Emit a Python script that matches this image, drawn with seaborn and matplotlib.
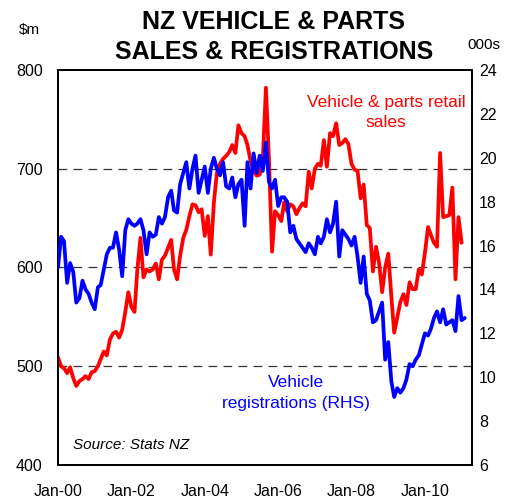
import matplotlib
matplotlib.use("Agg")
import matplotlib.pyplot as plt
import matplotlib.dates as mdates
import pandas as pd
import seaborn as sns

# Vehicle & parts retail sales, $m (left axis), monthly from Jan-2000
sales = [509, 500, 498, 493, 499, 488, 480, 485, 487, 490, 487, 494,
         495, 500, 507, 515, 511, 527, 533, 535, 529, 537, 555, 575,
         560, 555, 598, 630, 590, 598, 596, 598, 604, 588, 608, 612,
         620, 628, 598, 588, 612, 630, 638, 652, 664, 663, 656, 659,
         632, 652, 613, 666, 696, 705, 710, 713, 717, 724, 716, 744,
         736, 733, 724, 708, 698, 693, 694, 710, 782, 710, 616, 657,
         653, 647, 666, 657, 664, 662, 654, 660, 665, 662, 697, 680,
         700, 705, 703, 729, 702, 736, 733, 746, 724, 726, 730, 725,
         705, 699, 698, 670, 684, 643, 640, 596, 621, 605, 575, 600,
         614, 570, 534, 550, 565, 573, 562, 585, 578, 578, 598, 593,
         615, 641, 633, 625, 621, 716, 651, 652, 653, 681, 588, 651,
         625]

# Vehicle registrations, 000s (right axis), monthly from Jan-2000
regs = [15.0, 16.4, 16.2, 14.3, 15.2, 14.8, 13.4, 13.6, 14.4, 14.0, 13.8, 13.4,
        13.1, 14.1, 14.2, 14.9, 15.6, 15.9, 15.9, 16.6, 15.8, 14.6, 16.7, 17.2,
        17.0, 16.9, 17.0, 17.2, 16.7, 15.6, 16.6, 16.4, 16.5, 17.3, 17.0, 17.3,
        18.2, 18.5, 17.6, 17.5, 18.8, 19.3, 19.8, 18.6, 19.5, 20.1, 18.4, 19.0,
        19.6, 18.4, 19.5, 20.0, 19.5, 19.2, 19.8, 18.7, 18.6, 19.1, 18.2, 18.8,
        19.0, 16.9, 19.8, 18.6, 20.2, 19.3, 20.1, 19.4, 20.7, 18.9, 18.6, 19.0,
        17.8, 18.2, 18.2, 18.0, 16.6, 16.9, 16.3, 16.1, 15.9, 15.7, 16.1, 15.9,
        15.6, 16.4, 16.1, 16.4, 17.2, 16.6, 17.0, 18.0, 15.5, 16.7, 16.5, 16.3,
        16.0, 16.4, 15.5, 14.3, 15.5, 13.8, 13.5, 12.5, 12.6, 13.0, 13.4, 10.8,
        11.6, 9.8, 9.1, 9.5, 9.3, 9.5, 9.9, 10.6, 10.5, 10.8, 11.0, 11.5,
        12.0, 11.9, 12.2, 12.7, 13.0, 12.5, 13.1, 12.4, 12.5, 12.6, 12.1, 13.7,
        12.6, 12.7]

tick_years = [2000, 2002, 2004, 2006, 2008, 2010]

sales_df = pd.DataFrame({"date": pd.date_range("2000-01-01", periods=len(sales), freq="MS"),
                         "sales": sales})
regs_df = pd.DataFrame({"date": pd.date_range("2000-01-01", periods=len(regs), freq="MS"),
                        "regs": regs})

sns.set_style("white")
plt.rcParams["font.family"] = ["Liberation Sans", "DejaVu Sans"]
plt.rcParams["text.color"] = "black"
plt.rcParams["xtick.color"] = "black"
plt.rcParams["ytick.color"] = "black"

fig = plt.figure(figsize=(5.15, 5.0), dpi=100)
ax = fig.add_axes([0.1126, 0.07, 0.804, 0.79])

for y in [500, 600, 700]:
    ax.axhline(y, color="#333333", linewidth=0.9, dashes=(7, 5), zorder=1)

sns.lineplot(data=sales_df, x="date", y="sales", ax=ax, color="#ff0000", linewidth=2.7, zorder=3)

ax2 = ax.twinx()
sns.lineplot(data=regs_df, x="date", y="regs", ax=ax2, color="#0000ff", linewidth=2.7, zorder=3)

ax.set_ylim(400, 800)
ax.set_yticks([400, 500, 600, 700, 800])
ax2.set_ylim(6, 24)
ax2.set_yticks(range(6, 25, 2))
ax.set_xlim(pd.Timestamp("2000-01-01"), pd.Timestamp("2011-04-15"))
ax.set_xticks([pd.Timestamp(f"{y}-01-01") for y in tick_years])
ax.xaxis.set_major_formatter(mdates.DateFormatter("Jan-%y"))

for a in (ax, ax2):
    a.set_xlabel("")
    a.set_ylabel("")
    for s in a.spines.values():
        s.set_visible(True)
        s.set_color("black")
        s.set_linewidth(1.3)

ax.tick_params(axis="x", direction="in", length=5, width=1, pad=14, labelsize=11.5)
ax.tick_params(axis="y", length=0, pad=11, labelsize=11.5)
ax2.tick_params(axis="y", length=0, pad=5, labelsize=11.5)

fig.text(0.532, 0.956, "NZ VEHICLE & PARTS", ha="center", va="center",
         fontsize=18, fontweight="bold")
fig.text(0.532, 0.896, "SALES & REGISTRATIONS", ha="center", va="center",
         fontsize=18, fontweight="bold")
fig.text(0.057, 0.94, "$m", ha="center", va="center", fontsize=11)
fig.text(0.94, 0.91, "000s", ha="center", va="center", fontsize=11)

ax.text(0.792, 0.892, "Vehicle & parts retail\nsales", transform=ax.transAxes,
        ha="center", va="center", color="#ff0000", fontsize=12.5, linespacing=1.45)
ax2.text(0.575, 0.182, "Vehicle\nregistrations (RHS)", transform=ax.transAxes,
         ha="center", va="center", color="#0000ff", fontsize=12.5, linespacing=1.55)
ax2.text(0.037, 0.05, "Source: Stats NZ", transform=ax.transAxes,
         ha="left", va="center", fontsize=11, style="italic")

fig.savefig("out.png", dpi=100)
plt.close(fig)
